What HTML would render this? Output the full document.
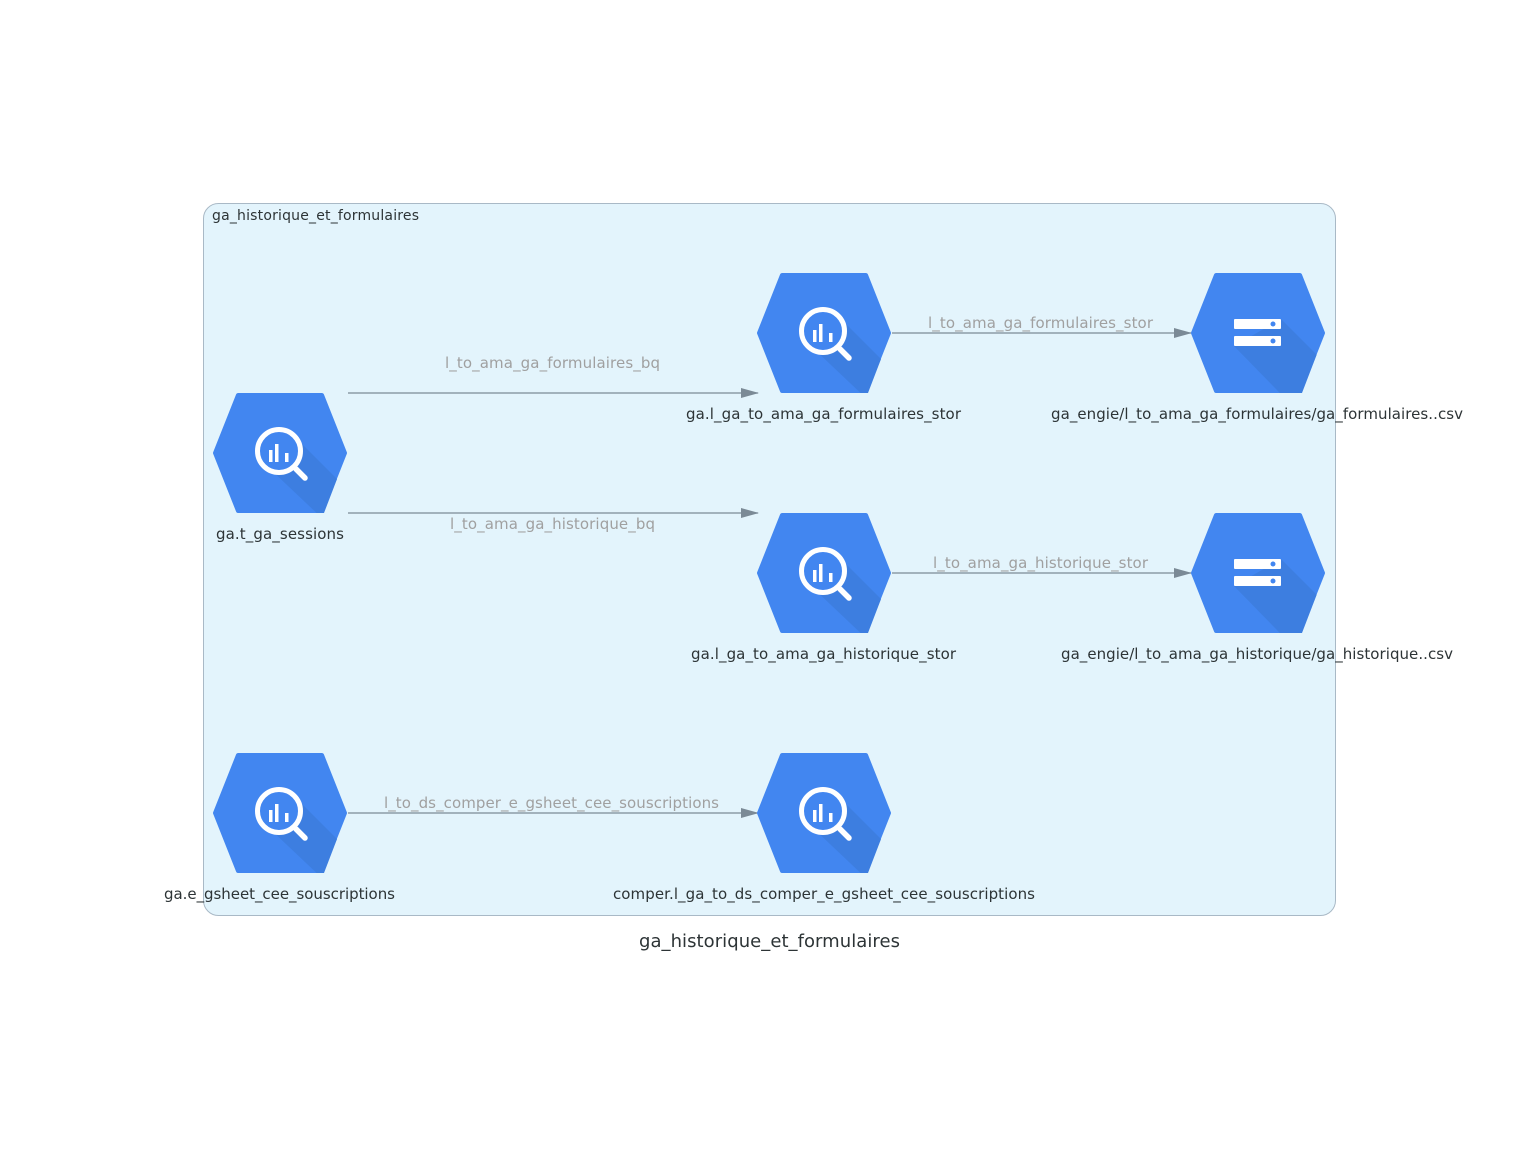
<!DOCTYPE html>
<html><head><meta charset="utf-8"><style>html,body{margin:0;padding:0;background:#fff}svg{display:block}</style></head>
<body>
<svg width="1539" height="1152" viewBox="0 0 1539 1152" xmlns="http://www.w3.org/2000/svg" font-family="'DejaVu Sans','Liberation Sans',sans-serif">
<defs>
<clipPath id="hx"><polygon points="-44,-60 44,-60 67,0 44,60 -44,60 -67,0"/></clipPath>
<g id="hex">
<polygon points="-42,-58 42,-58 65,0 42,58 -42,58 -65,0" fill="#4286f0" stroke="#4286f0" stroke-width="4" stroke-linejoin="round"/>
</g>
<g id="bq">
<use href="#hex"/>
<g clip-path="url(#hx)"><polygon points="18,-13 100,69 100,120 -12,14" fill="#3d7ee0"/></g>
<circle cx="-1" cy="-2" r="21.5" fill="#4286f0" stroke="#fff" stroke-width="5"/>
<line x1="16" y1="16" x2="25" y2="25" stroke="#fff" stroke-width="5.5" stroke-linecap="round"/>
<rect x="-11" y="-3" width="3.5" height="12" fill="#fff"/>
<rect x="-5" y="-9" width="3.5" height="18" fill="#fff"/>
<rect x="5" y="0" width="3.5" height="9" fill="#fff"/>
</g>
<g id="st">
<use href="#hex"/>
<g clip-path="url(#hx)"><polygon points="23,-14 100,63 100,140 -24,13" fill="#3d7ee0"/></g>
<rect x="-24" y="-14" width="47" height="10" rx="1" fill="#fff"/>
<rect x="-24" y="3" width="47" height="10" rx="1" fill="#fff"/>
<circle cx="15" cy="-9" r="2.5" fill="#4286f0"/>
<circle cx="15" cy="8" r="2.5" fill="#4286f0"/>
</g>
<marker id="ar" markerWidth="18" markerHeight="10" refX="17" refY="5" orient="auto" markerUnits="userSpaceOnUse"><path d="M0,0 L18,5 L0,10 Z" fill="#7b8a96"/></marker>
</defs>
<rect x="203.5" y="203.5" width="1132" height="712" rx="15" fill="#e3f4fc" stroke="#a9b9c6"/>
<text x="212" y="220" font-size="14" fill="#2d3436" textLength="207">ga_historique_et_formulaires</text>
<g stroke="#7b8a96" stroke-width="1.3" fill="none">
<line x1="348" y1="393" x2="758" y2="393" marker-end="url(#ar)"/>
<line x1="348" y1="513" x2="758" y2="513" marker-end="url(#ar)"/>
<line x1="892" y1="333" x2="1191" y2="333" marker-end="url(#ar)"/>
<line x1="892" y1="573" x2="1191" y2="573" marker-end="url(#ar)"/>
<line x1="348" y1="813" x2="758" y2="813" marker-end="url(#ar)"/>
</g>
<g font-size="15" fill="#a0a0a0">
<text x="445" y="368" textLength="215">l_to_ama_ga_formulaires_bq</text>
<text x="450" y="529" textLength="205">l_to_ama_ga_historique_bq</text>
<text x="928" y="328" textLength="225">l_to_ama_ga_formulaires_stor</text>
<text x="933" y="568" textLength="215">l_to_ama_ga_historique_stor</text>
<text x="384" y="808" textLength="335">l_to_ds_comper_e_gsheet_cee_souscriptions</text>
</g>
<use href="#bq" x="280" y="453"/>
<use href="#bq" x="824" y="333"/>
<use href="#bq" x="824" y="573"/>
<use href="#bq" x="280" y="813"/>
<use href="#bq" x="824" y="813"/>
<use href="#st" x="1258" y="333"/>
<use href="#st" x="1258" y="573"/>
<g font-size="15" fill="#2d3436">
<text x="216" y="539" textLength="128">ga.t_ga_sessions</text>
<text x="686" y="419" textLength="275">ga.l_ga_to_ama_ga_formulaires_stor</text>
<text x="691" y="659" textLength="265">ga.l_ga_to_ama_ga_historique_stor</text>
<text x="1051" y="419" textLength="412">ga_engie/l_to_ama_ga_formulaires/ga_formulaires..csv</text>
<text x="1061" y="659" textLength="392">ga_engie/l_to_ama_ga_historique/ga_historique..csv</text>
<text x="164" y="899" textLength="231">ga.e_gsheet_cee_souscriptions</text>
<text x="613" y="899" textLength="422">comper.l_ga_to_ds_comper_e_gsheet_cee_souscriptions</text>
</g>
<text x="639" y="947" font-size="18" fill="#2d3436" textLength="261">ga_historique_et_formulaires</text>
</svg>
</body></html>
